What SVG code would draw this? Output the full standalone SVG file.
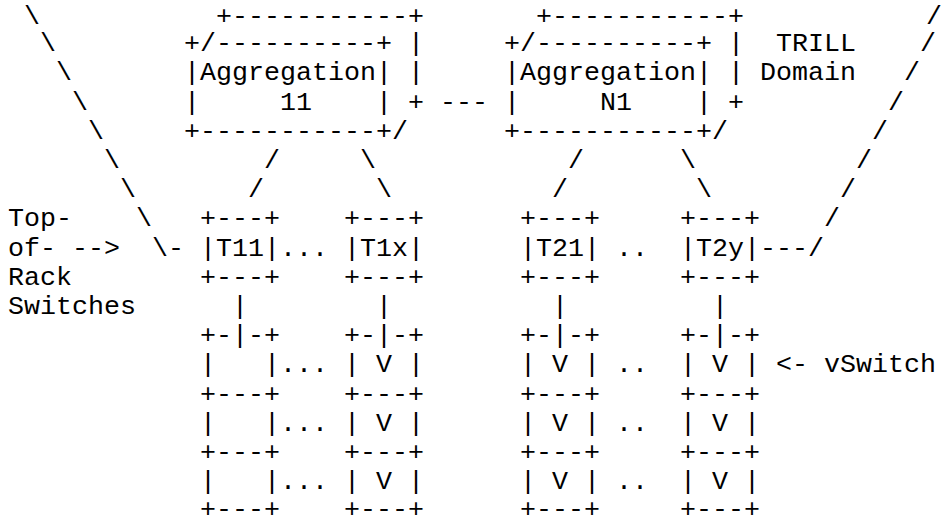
<svg xmlns="http://www.w3.org/2000/svg" width="943" height="526" viewBox="0 0 943 526">
<style>
text{font-family:"Liberation Mono","Courier New",monospace;font-size:26.67px;fill:#000;white-space:pre}
</style>
<rect width="943" height="526" fill="#fff"/>
<g transform="translate(0,-3)">
<g id="connectors" xml:space="preserve">
<text x="24" y="27">\</text>
<text x="40" y="54.2">\</text>
<text x="56" y="83.4">\</text>
<text x="72" y="112.6">\</text>
<text x="88" y="141.8">\</text>
<text x="104" y="171">\</text>
<text x="120" y="200.2">\</text>
<text x="136" y="229.4">\</text>
<text x="152" y="258.6">\-</text>
<text x="926" y="27">/</text>
<text x="920" y="54.2">/</text>
<text x="904" y="83.4">/</text>
<text x="888" y="112.6">/</text>
<text x="872" y="141.8">/</text>
<text x="856" y="171">/</text>
<text x="840" y="200.2">/</text>
<text x="824" y="229.4">/</text>
<text x="760" y="258.6">---/</text>
<text x="440" y="112.6">---</text>
<text x="264" y="171">/</text>
<text x="360" y="171">\</text>
<text x="568" y="171">/</text>
<text x="680" y="171">\</text>
<text x="248" y="200.2">/</text>
<text x="376" y="200.2">\</text>
<text x="552" y="200.2">/</text>
<text x="696" y="200.2">\</text>
<text x="232" y="317">|</text>
<text x="376" y="317">|</text>
<text x="552" y="317">|</text>
<text x="712" y="317">|</text>
<text x="280" y="258.6">...</text>
<text x="616" y="258.6">..</text>
<text x="280" y="375.4">...</text>
<text x="616" y="375.4">..</text>
<text x="280" y="433.8">...</text>
<text x="616" y="433.8">..</text>
<text x="280" y="492.2">...</text>
<text x="616" y="492.2">..</text>
</g>
<g id="agg11" xml:space="preserve">
<text x="216" y="27">+-----------+</text>
<text x="184" y="54.2">+/----------+ |</text>
<text x="184" y="83.4">|Aggregation| |</text>
<text x="184" y="112.6">|     11    | +</text>
<text x="184" y="141.8">+-----------+/</text>
</g>
<g id="aggN1" xml:space="preserve">
<text x="536" y="27">+-----------+</text>
<text x="504" y="54.2">+/----------+ |</text>
<text x="504" y="83.4">|Aggregation| |</text>
<text x="504" y="112.6">|     N1    | +</text>
<text x="504" y="141.8">+-----------+/</text>
</g>
<g id="trill-domain">
<text x="776" y="54.2">TRILL</text>
<text x="760" y="83.4">Domain</text>
</g>
<g id="tor-label" xml:space="preserve">
<text x="8" y="229.4">Top-</text>
<text x="8" y="258.6">of- --&gt;</text>
<text x="8" y="287.8">Rack</text>
<text x="8" y="317">Switches</text>
</g>
<g id="T11">
<text x="200" y="229.4">+---+</text>
<text x="200" y="258.6">|T11|</text>
<text x="200" y="287.8">+---+</text>
</g>
<g id="T1x">
<text x="344" y="229.4">+---+</text>
<text x="344" y="258.6">|T1x|</text>
<text x="344" y="287.8">+---+</text>
</g>
<g id="T21">
<text x="520" y="229.4">+---+</text>
<text x="520" y="258.6">|T21|</text>
<text x="520" y="287.8">+---+</text>
</g>
<g id="T2y">
<text x="680" y="229.4">+---+</text>
<text x="680" y="258.6">|T2y|</text>
<text x="680" y="287.8">+---+</text>
</g>
<g id="vs-T11" xml:space="preserve">
<text x="200" y="346.2">+-|-+</text>
<text x="200" y="375.4">|   |</text>
<text x="200" y="404.6">+---+</text>
<text x="200" y="433.8">|   |</text>
<text x="200" y="463">+---+</text>
<text x="200" y="492.2">|   |</text>
<text x="200" y="520.4">+---+</text>
</g>
<g id="vs-T1x" xml:space="preserve">
<text x="344" y="346.2">+-|-+</text>
<text x="344" y="375.4">| V |</text>
<text x="344" y="404.6">+---+</text>
<text x="344" y="433.8">| V |</text>
<text x="344" y="463">+---+</text>
<text x="344" y="492.2">| V |</text>
<text x="344" y="520.4">+---+</text>
</g>
<g id="vs-T21" xml:space="preserve">
<text x="520" y="346.2">+-|-+</text>
<text x="520" y="375.4">| V |</text>
<text x="520" y="404.6">+---+</text>
<text x="520" y="433.8">| V |</text>
<text x="520" y="463">+---+</text>
<text x="520" y="492.2">| V |</text>
<text x="520" y="520.4">+---+</text>
</g>
<g id="vs-T2y" xml:space="preserve">
<text x="680" y="346.2">+-|-+</text>
<text x="680" y="375.4">| V |</text>
<text x="680" y="404.6">+---+</text>
<text x="680" y="433.8">| V |</text>
<text x="680" y="463">+---+</text>
<text x="680" y="492.2">| V |</text>
<text x="680" y="520.4">+---+</text>
</g>
<g id="vswitch-label" xml:space="preserve">
<text x="776" y="375.4">&lt;- vSwitch</text>
</g>
</g>
</svg>
